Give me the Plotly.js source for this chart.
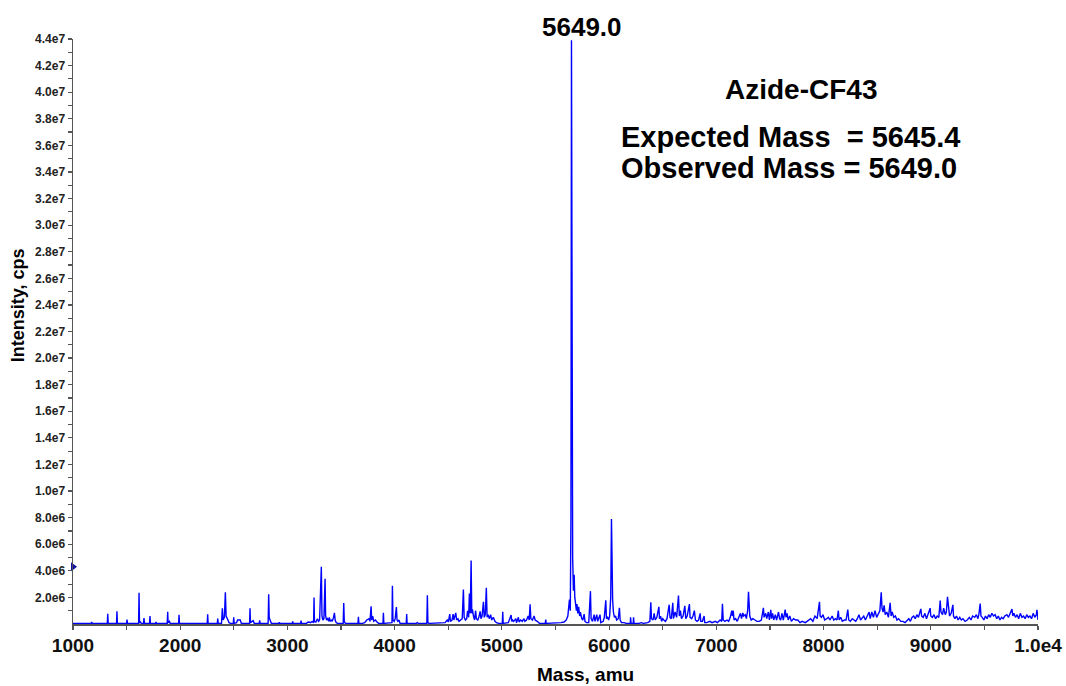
<!DOCTYPE html>
<html>
<head>
<meta charset="utf-8">
<script src="https://cdn.plot.ly/plotly-3.0.1.min.js"></script>
<style>html,body{margin:0;padding:0;background:#fff;}#chart{width:1066px;height:686px;}</style>
</head>
<body>
<div id="chart"></div>
<script>
// Reconstructed deconvoluted mass spectrum (mass in amu, intensity in millions of cps)
const massAmu = [
1000,1170,1174,1178,1320,1324,1328,1406,1410,1414,1500,1504,1508,1612,1616,1620,1630,1636,1658,1662,1666,1672,1714,1718,1722,1770,1774,1778,1879,1883,1887,1900,1905,1985,1989,1993,2100,
2252,2256,2260,2346,2350,2354,2385,2393,2400,2412,2421,2428,2435,2445,2455,2470,2495,2499,2503,2525,2535,2550,2560,2570,2647,2651,2655,2680,2690,2737,2741,2745,2820,2825,2830,2838,2850,2920,2925,2930,
3045,3049,3053,3123,3127,3131,3180,3185,3200,3215,3230,3244,3248,3252,3265,3280,3290,3300,3316,3322,3330,3340,3351,3356,3365,3375,3385,3391,3398,3410,3418,3430,3438,3445,3455,3470,3520,3525,3530,3540,3600,3610,3620,3658,3662,3666,
3700,3720,3740,3760,3770,3780,3786,3795,3805,3820,3835,3850,3891,3895,3899,3950,3975,3979,3984,3995,4005,4016,4022,4030,4040,4050,4108,4112,4116,4200,4210,4220,4300,4305,4310,4320,
4400,4420,4440,4470,4490,4500,4514,4520,4535,4545,4552,4560,4570,4578,4590,4600,4615,4630,4641,4648,4660,4672,4680,4690,4697,4705,4713,4719,4725,4735,4745,4755,4762,4775,4785,4797,4805,4815,4828,4835,4845,4855,4862,4872,4882,4895,4905,4920,4935,4950,4970,
5004,5008,5012,5060,5086,5092,5100,5110,5130,5136,5154,5160,5175,5190,5205,5215,5230,5245,5255,5263,5270,5285,5300,5310,5330,5350,5405,5409,5413,5450,5500,5550,5580,5600,5615,5630,5638,5644,5649,5654,5660,5667,5674,5680,5688,5695,5700,5708,5716,5725,5732,5745,5755,5767,5775,5790,5810,5826,5832,5845,5860,5868,5885,5893,5915,5922,5945,5955,5969,5975,5985,5995,6005,6015,6022,6027,6033,6040,6050,6060,6070,6085,6096,6103,6115,6140,6160,
6198,6200,6205,6225,6228,6232,6280,6300,6320,6360,6380,6389,6395,6410,6420,6430,6445,6464,6470,6480,6490,6500,6510,6525,6540,6560,6568,6580,6594,6600,6615,6630,6647,6655,6665,6675,6690,6706,6715,6728,6749,6755,6770,6782,6795,6805,6820,6835,6849,6855,6870,6886,6892,6910,6940,6960,6990,7010,7035,7050,7057,7064,7080,7100,7115,7130,7144,7150,7158,7165,7180,7195,7210,7225,7235,7247,7255,7270,7280,7292,7300,7305,7312,7325,7340,7360,7380,7400,7420,7439,7445,7460,7470,7485,7495,7508,7515,7525,7535,7550,7562,7580,7590,7600,7612,7625,7642,7650,7660,7670,7685,7700,7720,7740,7760,7780,7800,7830,7860,7880,7900,7920,7940,7962,7968,7980,7995,
8010,8030,8045,8060,8080,8095,8110,8125,8138,8145,8160,8175,8195,8210,8226,8235,8250,8268,8285,8300,8315,8330,8345,8360,8375,8390,8410,8425,8435,8450,8465,8480,8495,8510,8525,8538,8545,8555,8565,8575,8590,8605,8621,8630,8640,8655,8670,8685,8700,8720,8740,8760,8780,8795,8810,8825,8840,8855,8870,8885,8907,8915,8930,8945,8960,8975,8994,
9000,9015,9030,9045,9060,9075,9088,9095,9110,9120,9135,9145,9156,9165,9175,9190,9206,9212,9225,9240,9255,9270,9285,9300,9320,9340,9360,9375,9390,9410,9425,9440,9450,9461,9468,9480,9495,9510,9525,9540,9555,9570,9585,9600,9615,9630,9645,9660,9675,9690,9710,9725,9740,9757,9765,9775,9790,9805,9820,9835,9850,9865,9880,9895,9910,9925,9940,9955,9970,9985,9990,9996,10000
];
const intensityM = [
0.05,0.05,0.15,0.05,0.05,0.77,0.05,0.05,0.96,0.05,0.05,0.34,0.05,0.05,2.35,0.1,0.15,0.05,0.05,0.45,0.1,0.05,0.05,0.59,0.05,0.05,0.15,0.05,0.05,0.92,0.1,0.2,0.05,0.05,0.69,0.05,0.05,
0.05,0.74,0.05,0.05,0.4,0.05,0.05,1.19,0.3,0.5,2.39,0.6,0.4,0.3,0.1,0.05,0.05,0.5,0.05,0.1,0.3,0.3,0.3,0.05,0.05,1.19,0.1,0.25,0.05,0.05,0.28,0.05,0.05,2.24,0.5,0.3,0.05,0.05,0.12,0.05,
0.05,0.2,0.05,0.05,0.25,0.05,0.05,0.12,0.15,0.1,0.2,0.1,2.0,0.2,0.15,0.4,0.2,0.3,4.3,0.6,0.3,0.4,3.4,0.6,0.3,0.4,0.2,0.5,0.2,0.3,0.2,0.5,0.84,0.3,0.1,0.05,0.05,1.57,0.2,0.05,0.05,0.1,0.05,0.05,0.55,0.05,
0.05,0.1,0.3,0.4,0.2,1.34,0.3,0.6,0.2,0.3,0.15,0.05,0.05,0.84,0.05,0.05,0.1,2.87,0.3,0.2,0.4,1.27,0.3,0.2,0.3,0.05,0.05,0.75,0.05,0.05,0.1,0.05,0.05,2.17,0.1,0.05,
0.05,0.1,0.05,0.1,0.3,0.15,0.75,0.2,0.3,0.75,0.3,0.5,0.84,0.3,0.4,0.2,0.3,0.4,2.6,0.5,0.3,0.4,1.0,0.5,2.3,0.8,4.77,0.8,1.1,0.6,0.3,1.0,0.4,0.3,0.5,0.95,0.4,0.6,1.67,0.5,0.7,2.72,0.5,0.7,0.4,0.7,0.3,0.5,0.2,0.1,0.05,
0.05,0.92,0.05,0.1,0.67,0.2,0.3,0.2,0.4,0.1,0.5,0.15,0.3,0.2,0.4,0.2,0.3,0.6,0.3,1.49,0.4,0.3,0.6,0.3,0.2,0.05,0.05,0.33,0.05,0.05,0.05,0.1,0.15,0.3,0.6,1.84,1.0,8.0,43.9,12.0,5.0,2.5,3.7,2.0,1.5,1.0,1.5,0.8,1.3,0.6,0.9,0.4,0.3,0.75,0.2,0.1,0.1,2.47,0.4,0.2,0.7,0.2,0.7,0.2,0.7,0.1,0.2,0.5,1.79,0.4,0.5,0.3,0.6,2.0,7.9,2.8,1.8,0.9,0.5,0.6,0.3,0.4,1.22,0.3,0.1,0.1,0.05,
0.05,0.5,0.05,0.05,0.5,0.05,0.05,0.1,0.05,0.1,0.2,1.64,0.4,0.3,0.8,0.3,0.5,1.29,0.4,0.6,0.2,0.4,0.3,0.2,0.4,1.45,0.5,0.4,1.59,0.4,0.9,0.5,2.14,0.6,1.0,0.4,0.6,1.36,0.4,0.6,1.5,0.5,0.4,0.6,1.0,0.3,0.2,0.3,0.8,0.2,0.2,0.6,0.1,0.1,0.2,0.1,0.2,0.1,0.3,0.2,1.52,0.3,0.2,0.3,0.2,0.5,1.0,0.6,1.0,0.3,0.4,0.2,0.5,0.8,0.4,0.84,0.6,0.7,0.4,1.0,2.42,1.6,0.6,0.3,0.4,0.3,0.2,0.2,0.3,1.22,0.5,0.8,0.4,0.9,0.3,1.07,0.4,0.8,0.3,0.7,0.3,0.9,0.4,0.3,0.8,0.3,1.09,0.5,0.8,0.3,0.6,0.2,0.4,0.3,0.3,0.1,0.2,0.1,0.3,0.4,0.2,0.6,0.4,1.67,0.6,0.5,0.7,
0.3,0.4,0.5,0.3,0.6,0.3,0.4,0.3,1.0,0.3,0.5,0.2,0.3,0.3,1.09,0.3,0.2,0.4,0.3,0.2,0.4,0.7,0.3,0.5,0.6,0.3,0.7,0.9,0.4,0.9,0.5,1.0,0.5,0.8,1.0,2.39,1.2,0.9,1.4,0.7,0.9,0.5,1.59,0.6,0.9,0.5,0.6,0.3,0.4,0.2,0.2,0.1,0.3,0.4,0.2,0.5,0.6,0.4,0.7,0.5,1.14,0.6,0.5,0.8,0.4,0.7,1.19,
0.6,0.5,0.7,0.4,0.6,0.5,1.77,0.9,0.7,1.2,0.7,0.9,2.04,1.0,0.6,0.8,1.44,0.6,0.4,0.6,0.3,0.5,0.3,0.4,0.2,0.3,0.5,0.3,0.6,0.5,0.7,0.4,0.8,1.54,0.6,0.5,0.3,0.6,0.4,0.7,0.5,0.8,0.6,0.7,0.4,0.6,0.3,0.5,0.4,0.6,0.7,0.5,0.8,1.12,0.6,0.8,0.5,0.7,0.4,0.8,0.5,0.6,0.4,0.7,0.5,0.6,0.4,0.8,0.5,0.7,1.07,0.4,0.3
];

const xTickVals = [1000,1500,2000,2500,3000,3500,4000,4500,5000,5500,6000,6500,7000,7500,8000,8500,9000,9500,10000];
const xTickText = ['1000','','2000','','3000','','4000','','5000','','6000','','7000','','8000','','9000','','1.0e4'];
const yTickVals = [1,2,3,4,5,6,7,8,9,10,11,12,13,14,15,16,17,18,19,20,21,22,23,24,25,26,27,28,29,30,31,32,33,34,35,36,37,38,39,40,41,42,43,44];
const yTickText = ['','2.0e6','','4.0e6','','6.0e6','','8.0e6','','1.0e7','','1.2e7','','1.4e7','','1.6e7','','1.8e7','','2.0e7','','2.2e7','','2.4e7','','2.6e7','','2.8e7','','3.0e7','','3.2e7','','3.4e7','','3.6e7','','3.8e7','','4.0e7','','4.2e7','','4.4e7'];

const markerMass = [1000];
const markerIntensityM = [4.3];

const peakLabel = '5649.0';
const sampleName = 'Azide-CF43';
const expectedText = 'Expected Mass \u00a0= 5645.4';
const observedText = 'Observed Mass = 5649.0';

const FONT = 'Liberation Sans, Arial, Helvetica, sans-serif';

const traces = [
  {
    x: massAmu, y: intensityM, type: 'scatter', mode: 'lines',
    line: {color: '#0000ff', width: 1.4}, hoverinfo: 'skip', showlegend: false
  },
  {
    x: markerMass, y: markerIntensityM, type: 'scatter', mode: 'markers',
    marker: {symbol: 'triangle-right', size: 8, color: '#1010a0'},
    cliponaxis: false, hoverinfo: 'skip', showlegend: false
  }
];

const layout = {
  width: 1066, height: 686,
  margin: {l: 73, r: 28, t: 39, b: 62, pad: 0},
  paper_bgcolor: '#ffffff', plot_bgcolor: '#ffffff',
  font: {family: FONT, color: '#111'},
  showlegend: false,
  xaxis: {
    range: [1000, 10000], showgrid: false, zeroline: false,
    showline: true, linecolor: '#555', linewidth: 1.5,
    ticks: 'outside', ticklen: 4, tickwidth: 1.2, tickcolor: '#555',
    tickmode: 'array', tickvals: xTickVals, ticktext: xTickText,
    tickfont: {family: FONT, size: 19, color: '#111', weight: 'bold'}
  },
  yaxis: {
    range: [0, 44], showgrid: false, zeroline: false,
    showline: true, linecolor: '#555', linewidth: 1.5,
    ticks: 'outside', ticklen: 4, tickwidth: 1.2, tickcolor: '#555',
    tickmode: 'array', tickvals: yTickVals, ticktext: yTickText,
    tickfont: {family: FONT, size: 12, color: '#222', weight: 'bold'}
  },
  annotations: [
    {text: '<b>' + peakLabel + '</b>', xref: 'paper', yref: 'paper', x: 0.5275, y: 1.0205,
     xanchor: 'center', yanchor: 'middle', showarrow: false, font: {family: FONT, size: 26, color: '#000'}},
    {text: '<b>' + sampleName + '</b>', xref: 'paper', yref: 'paper', x: 0.7539, y: 0.914,
     xanchor: 'center', yanchor: 'middle', showarrow: false, font: {family: FONT, size: 28, color: '#000'}},
    {text: '<b>' + expectedText + '</b>', xref: 'paper', yref: 'paper', x: 0.5655, y: 0.8325,
     xanchor: 'left', yanchor: 'middle', showarrow: false, font: {family: FONT, size: 29, color: '#000'}},
    {text: '<b>' + observedText + '</b>', xref: 'paper', yref: 'paper', x: 0.5655, y: 0.779,
     xanchor: 'left', yanchor: 'middle', showarrow: false, font: {family: FONT, size: 29, color: '#000'}},
    {text: '<b>Intensity, cps</b>', xref: 'paper', yref: 'paper', x: -0.057, y: 0.545,
     xanchor: 'center', yanchor: 'middle', textangle: -90, showarrow: false, font: {family: FONT, size: 18, color: '#000'}},
    {text: '<b>Mass, amu</b>', xref: 'paper', yref: 'paper', x: 0.5306, y: -0.087,
     xanchor: 'center', yanchor: 'middle', showarrow: false, font: {family: FONT, size: 19, color: '#000'}}
  ]
};

Plotly.newPlot('chart', traces, layout, {displayModeBar: false, staticPlot: true});
</script>
</body>
</html>
